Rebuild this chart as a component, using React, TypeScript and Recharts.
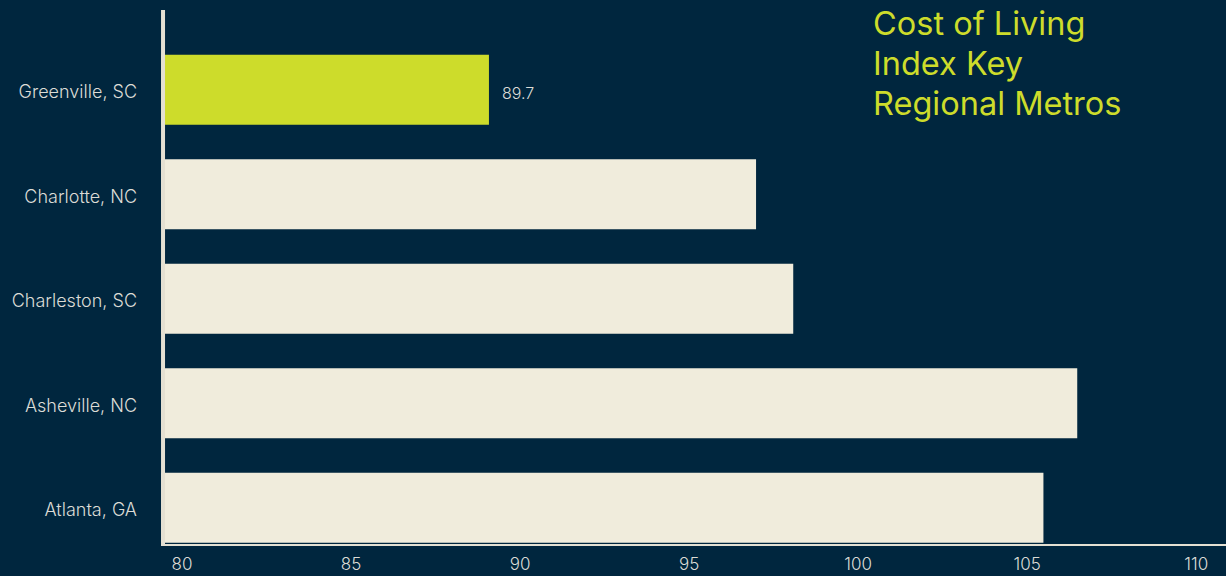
import React from 'react';
import { BarChart, Bar, XAxis, YAxis, Cell, LabelList, ReferenceLine } from 'recharts';

const categories = ['Greenville, SC', 'Charlotte, NC', 'Charleston, SC', 'Asheville, NC', 'Atlanta, GA'];
const values = [89.7, 97.6, 98.7, 107.1, 106.1];
const highlighted = 'Greenville, SC';
const xTicks = [80, 85, 90, 95, 100, 105, 110];
const titleLines = ['Cost of Living', 'Index Key', 'Regional Metros'];

const data = categories.map((name, i) => ({
  name,
  value: values[i],
  label: name === highlighted ? values[i] : null,
}));

const BG = '#00263e';
const CREAM = '#f0ecdc';
const LIME = '#cddc2b';
const TEXT = '#dcdcd6';
const FONT = 'Inter, "Open Sans", sans-serif';

export default function App() {
  return (
    <div style={{ position: 'absolute', left: 0, top: 0, width: 1226, height: 576, background: BG, overflow: 'hidden' }}>
      <BarChart
        width={1226}
        height={576}
        data={data}
        layout="vertical"
        margin={{ top: 10, right: 0, bottom: 0, left: 0 }}
      >
        <XAxis
          type="number"
          domain={[80, 111.5]}
          ticks={xTicks}
          allowDataOverflow
          height={31}
          tickLine={false}
          tickMargin={7}
          axisLine={{ stroke: '#e4e0d2', strokeWidth: 2 }}
          tick={{ fill: TEXT, fontSize: 17, fontFamily: FONT, fontWeight: 300, dx: 21 }}
        />
        <YAxis
          type="category"
          dataKey="name"
          width={161}
          axisLine={false}
          tickLine={false}
          tickMargin={18}
          padding={{ top: 27.75, bottom: -15.25 }}
          tick={{ fill: TEXT, fontSize: 18, fontFamily: FONT, fontWeight: 300, dy: 2 }}
        />
        <Bar dataKey="value" barSize={70} isAnimationActive={false}>
          {data.map((d) => (
            <Cell key={d.name} fill={d.name === highlighted ? LIME : CREAM} />
          ))}
          <LabelList dataKey="label" position="right" offset={13} fill={TEXT} fontSize={16} fontFamily={FONT} fontWeight={300} dy={4} />
        </Bar>
        <ReferenceLine x={80.06} stroke="#e4e0d2" strokeWidth={4} />
      </BarChart>
      <div
        style={{
          position: 'absolute',
          left: 873,
          top: 4,
          color: LIME,
          fontFamily: FONT,
          fontSize: 32.5,
          fontWeight: 400,
          lineHeight: '40px',
        }}
      >
        {titleLines.map((t) => (
          <div key={t}>{t}</div>
        ))}
      </div>
    </div>
  );
}
